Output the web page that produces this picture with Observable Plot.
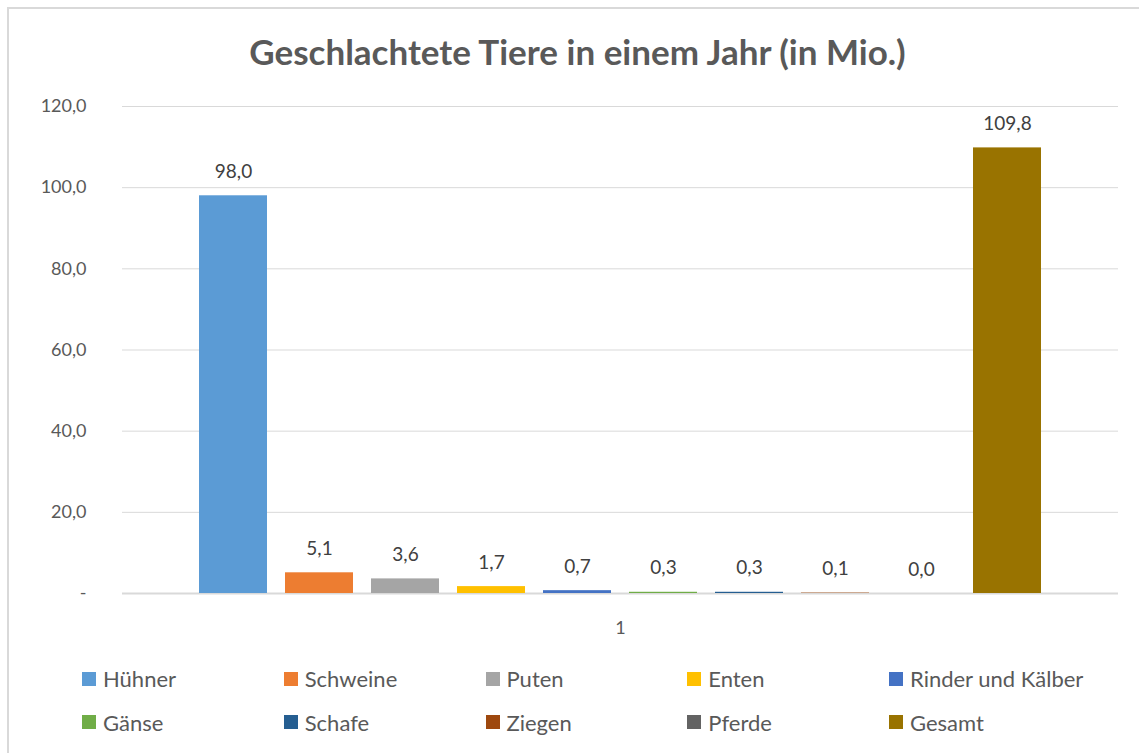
<!DOCTYPE html>
<html><head><meta charset="utf-8">
<script src="https://cdn.jsdelivr.net/npm/d3@7"></script>
<script src="https://cdn.jsdelivr.net/npm/@observablehq/plot@0.6"></script>
<style>
html,body{margin:0;padding:0;background:#fff;overflow:hidden;width:1139px;height:753px;font-family:Lato,"Open Sans",sans-serif}
#frame{position:absolute;left:7px;top:7px;width:1200px;height:800px;border:2px solid #d9d9d9;box-sizing:border-box}
#title{position:absolute;left:7px;width:1141px;top:30px;line-height:42px;text-align:center;font-size:35px;font-weight:bold;color:#595959}
#chart{position:absolute;left:0;top:0}
#legend{position:absolute;left:82px;top:657px;display:grid;grid-template-columns:repeat(5,201.75px);grid-auto-rows:43.5px}
.item{display:flex;align-items:center;font-size:22px;color:#595959;white-space:nowrap}
.sw{width:14px;height:14px;margin-right:7px;flex:none}
</style></head>
<body>
<div id="frame"></div>
<div id="title">Geschlachtete Tiere in einem Jahr (in Mio.)</div>
<div id="chart"></div>
<div id="legend"></div>
<script>
const categories = ["Hühner","Schweine","Puten","Enten","Rinder und Kälber","Gänse","Schafe","Ziegen","Pferde","Gesamt"];
const values = [98.0, 5.1, 3.6, 1.7, 0.7, 0.3, 0.3, 0.1, 0.0, 109.8];
const groupLabel = "1";
const yTicks = [0, 20, 40, 60, 80, 100, 120];
const yTickLabels = ["-", "20,0", "40,0", "60,0", "80,0", "100,0", "120,0"];
const colors = ["#5b9bd5","#ed7d31","#a5a5a5","#ffc000","#4472c4","#70ad47","#255e91","#9e480e","#636363","#997300"];

const data = categories.map((c, i) => ({cat: c, value: values[i], group: groupLabel}));
const fmt = d => d.toFixed(1).replace(".", ",");

const chart = Plot.plot({
  width: 1139,
  height: 650,
  marginTop: 106,
  marginBottom: 57,
  marginLeft: 122,
  marginRight: 21,
  style: {fontFamily: "Lato, 'Open Sans', sans-serif", background: "transparent"},
  fx: {domain: [groupLabel], padding: 0, axis: null},
  x: {domain: categories, axis: null, paddingInner: 0.213, paddingOuter: 0.87},
  y: {domain: [0, 120], axis: null},
  color: {domain: categories, range: colors},
  marks: [
    Plot.gridY(yTicks, {stroke: "#d9d9d9", strokeOpacity: 1}),
    Plot.axisY(yTicks, {tickFormat: d => yTickLabels[yTicks.indexOf(d)], tickSize: 0, tickPadding: 36, fontSize: 18, fill: "#595959", label: null}),
    Plot.axisFx({anchor: "bottom", tickSize: 0, tickPadding: 28, fontSize: 18, fill: "#595959", label: null}),
    Plot.ruleY([0], {stroke: "#d9d9d9", strokeWidth: 2}),
    Plot.barY(data, {fx: "group", x: "cat", y: "value", fill: "cat"}),
    Plot.text(data, {fx: "group", x: "cat", y: "value", text: d => fmt(d.value), dy: -24, fontSize: 19, fill: "#404040"})
  ]
});
document.getElementById("chart").appendChild(chart);

const legend = document.getElementById("legend");
categories.forEach((c, i) => {
  const it = document.createElement("div");
  it.className = "item";
  const sw = document.createElement("span");
  sw.className = "sw";
  sw.style.background = colors[i];
  it.appendChild(sw);
  it.appendChild(document.createTextNode(c));
  legend.appendChild(it);
});
</script>
</body></html>
